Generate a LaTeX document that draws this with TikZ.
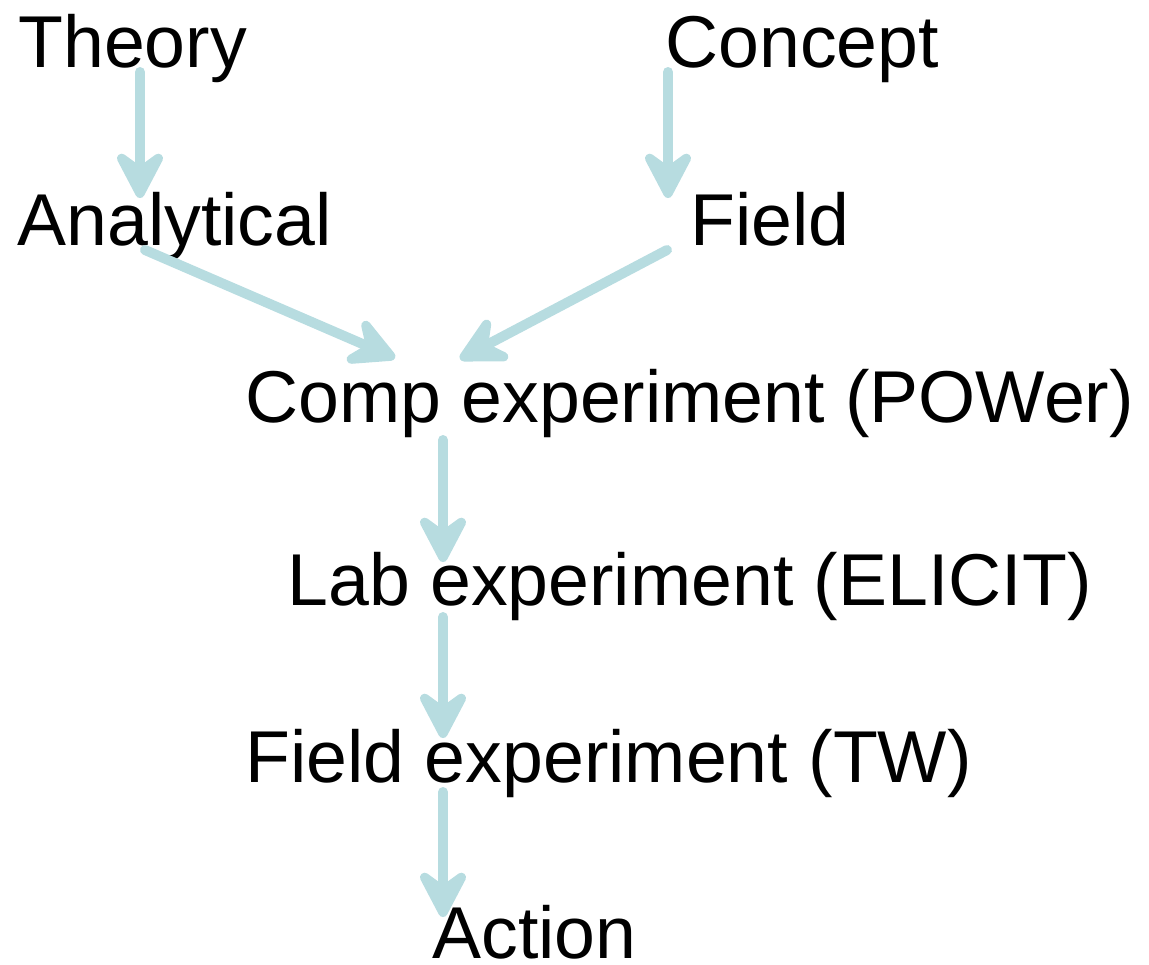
\documentclass[tikz,border=0pt]{standalone}
\usepackage{fontspec}
\setmainfont{Liberation Sans}
\usetikzlibrary{arrows.meta}
\definecolor{flowblue}{RGB}{183,220,224}

\begin{document}
\begin{tikzpicture}[
    lbl/.style={anchor=base west, inner sep=0pt, font=\fontsize{41.8}{50}\selectfont},
    flow/.style={draw=flowblue, line width=0.2cm, line cap=round,
        -{Stealth[round, length=1.2cm, width=1.25cm, inset=0.45cm]}}
  ]
  \useasboundingbox (0,0) rectangle (22.98,-19.28);
  \node[lbl] (theory) at (0.36,-1.34) {Theory};
  \node[lbl] (concept) at (13.3,-1.34) {Concept};
  \node[lbl] (analytical) at (0.34,-4.9) {Analytical};
  \node[lbl] (field) at (13.8,-4.9) {Field};
  \node[lbl] (comp) at (4.9,-8.44) {Comp experiment (POWer)};
  \node[lbl] (lab) at (5.74,-12.1) {Lab experiment (ELICIT)};
  \node[lbl] (fieldexp) at (4.9,-15.64) {Field experiment (TW)};
  \node[lbl] (action) at (8.64,-19.16) {Action};
  % arrows
  \draw[flow] ([shift={(2.44,-0.1)}]theory.base west) -- ([shift={(2.46,0.94)}]analytical.base west);
  \draw[flow] ([shift={(0.06,-0.1)}]concept.base west) -- ([shift={(-0.44,0.94)}]field.base west);
  \draw[flow] ([shift={(2.56,-0.1)}]analytical.base west) -- ([shift={(3.0,1.28)}]comp.base west);
  \draw[flow] ([shift={(-0.46,-0.1)}]field.base west) -- ([shift={(4.3,1.26)}]comp.base west);
  \draw[flow] ([shift={(3.96,-0.36)}]comp.base west) -- ([shift={(3.12,0.86)}]lab.base west);
  \draw[flow] ([shift={(3.12,-0.24)}]lab.base west) -- ([shift={(3.96,0.88)}]fieldexp.base west);
  \draw[flow] ([shift={(3.96,-0.2)}]fieldexp.base west) -- ([shift={(0.22,0.82)}]action.base west);
\end{tikzpicture}
\end{document}
